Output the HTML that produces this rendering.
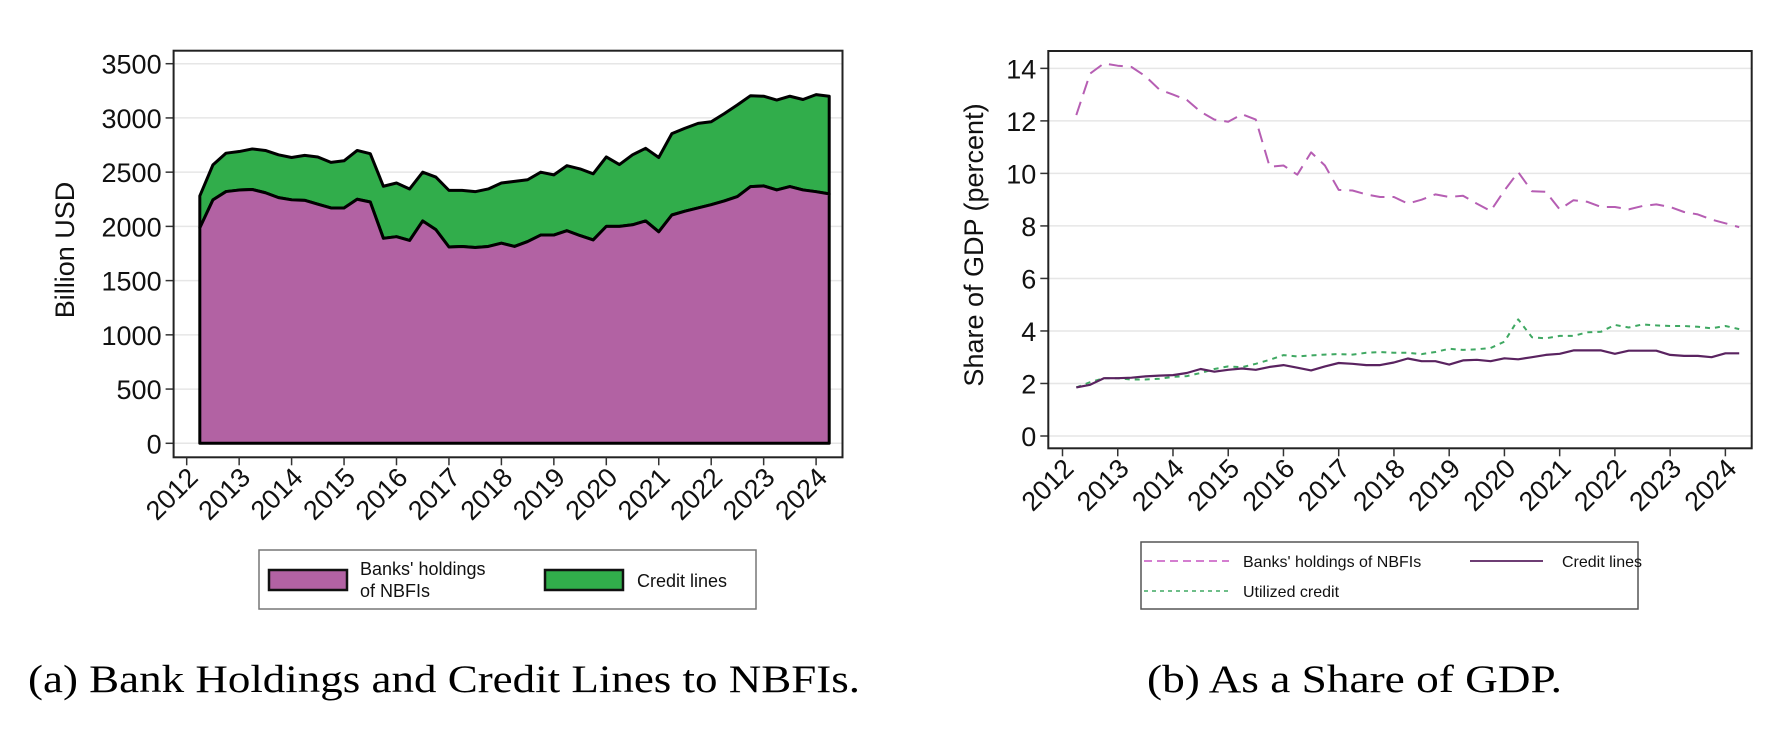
<!DOCTYPE html>
<html><head><meta charset="utf-8"><style>
html,body{margin:0;padding:0;background:#fff;}
svg{display:block;font-family:"Liberation Sans",sans-serif;}
</style></head><body>
<svg id="fig" width="1787" height="733" viewBox="0 0 1787 733">
<g id="left"></g>
<g id="right"></g>
<text x="28" y="692" font-family="Liberation Serif, serif" font-size="39" textLength="832" lengthAdjust="spacingAndGlyphs">(a) Bank Holdings and Credit Lines to NBFIs.</text>
<text x="1147" y="692" font-family="Liberation Serif, serif" font-size="39" textLength="415" lengthAdjust="spacingAndGlyphs">(b) As a Share of GDP.</text>
</svg>
<script>
// ---- Left chart data (billion USD), quarterly 2012Q2..2024Q2
const startYear = 2012.25;
const banksHoldings = [1986,2244,2321, 2335,2340,2310,2265, 2245,2240,2205,2170, 2170,2250,2225,1890, 1905,1870,2050,1970, 1810,1815,1805,1815, 1845,1815,1860,1920, 1920,1960,1915,1875, 2000,2000,2015,2050, 1950,2105,2140,2170, 2200,2235,2275,2367, 2373,2336,2367,2336, 2320,2300];
const totalWithCredit = [2281,2567,2675, 2690,2714,2700,2660, 2635,2655,2640,2590, 2605,2700,2670,2370, 2400,2345,2500,2455, 2332,2332,2320,2345, 2400,2415,2430,2500, 2475,2560,2530,2485, 2640,2570,2660,2720, 2635,2855,2905,2950, 2965,3040,3120,3205, 3200,3165,3200,3170, 3215,3200];
const leftYTicks = [0,500,1000,1500,2000,2500,3000,3500];
const yearTicks = [2012,2013,2014,2015,2016,2017,2018,2019,2020,2021,2022,2023,2024];
// ---- Right chart data (percent of GDP)
const banksShare = [12.22,13.8,14.19, 14.1,14.05,13.7,13.2, 13.0,12.8,12.35,12.05, 11.97,12.25,12.05,10.25, 10.3,9.95,10.8,10.3, 9.37,9.35,9.2,9.1, 9.1,8.85,9.0,9.2, 9.1,9.15,8.85,8.57, 9.35,10.05,9.32,9.3, 8.63,8.98,8.92,8.72, 8.72,8.63,8.76,8.82, 8.72,8.53,8.44,8.24, 8.1,7.95];
const creditShare = [1.85,1.95,2.2, 2.2,2.22,2.27,2.3, 2.32,2.4,2.55,2.45, 2.52,2.57,2.52,2.63, 2.7,2.6,2.5,2.65, 2.78,2.75,2.7,2.7, 2.8,2.95,2.85,2.85, 2.72,2.88,2.9,2.85, 2.96,2.92,3.0,3.09, 3.13,3.26,3.26,3.26, 3.13,3.25,3.25,3.25, 3.09,3.05,3.05,3.0, 3.15,3.15];
const utilizedShare = [1.85,2.05,2.2, 2.2,2.15,2.15,2.18, 2.25,2.28,2.4,2.55, 2.65,2.62,2.75,2.9, 3.08,3.03,3.07,3.1, 3.12,3.1,3.17,3.2, 3.17,3.17,3.12,3.2, 3.32,3.28,3.3,3.35, 3.59,4.44,3.76,3.72, 3.81,3.81,3.95,3.97, 4.23,4.13,4.25,4.21, 4.19,4.19,4.16,4.1, 4.19,4.07];
const rightYTicks = [0,2,4,6,8,10,12,14];

const NS="http://www.w3.org/2000/svg";
function mk(parent,tag,attrs){const e=document.createElementNS(NS,tag);for(const k in attrs)e.setAttribute(k,attrs[k]);parent.appendChild(e);return e;}

// ---------- LEFT ----------
(function(){
const g=document.getElementById('left');
const L={x0:173.6,x1:842.5,y0:50.7,y1:457.3};
const xs=t=>186.7+(t-2012)*52.45;
const ys=v=>443.3-v*(379.6/3500);
leftYTicks.forEach(v=>{
  const gl=mk(g,'line',{x1:L.x0,x2:L.x1,y1:ys(v),y2:ys(v),stroke:'#e6e6e6','stroke-width':1.5});
  
  
  const tk=mk(g,'line',{x1:L.x0-8,x2:L.x0,y1:ys(v),y2:ys(v),stroke:'#333','stroke-width':1.5});
  
  
  const t=mk(g,'text',{x:L.x0-12,y:ys(v)+10,'text-anchor':'end','font-size':27,fill:'#111'});
  t.textContent=v;
  
  
});
const n=banksHoldings.length;
const X=i=>xs(startYear+i*0.25);
let top='',bot='';
for(let i=0;i<n;i++){top+=(i?'L':'M')+X(i)+','+ys(totalWithCredit[i]);}
for(let i=n-1;i>=0;i--){top+='L'+X(i)+','+ys(banksHoldings[i]);}
const ga=mk(g,'path',{d:top+'Z',fill:'#31ad4b',stroke:'#000','stroke-width':3,'stroke-linejoin':'round'});


for(let i=0;i<n;i++){bot+=(i?'L':'M')+X(i)+','+ys(banksHoldings[i]);}
bot+='L'+X(n-1)+','+ys(0)+'L'+X(0)+','+ys(0)+'Z';
const pa=mk(g,'path',{d:bot,fill:'#b262a3',stroke:'#000','stroke-width':3,'stroke-linejoin':'round'});


const fr=mk(g,'rect',{x:L.x0,y:L.y0,width:L.x1-L.x0,height:L.y1-L.y0,fill:'none',stroke:'#222','stroke-width':2});


yearTicks.forEach(y=>{
  const x=xs(y);
  const tk=mk(g,'line',{x1:x,x2:x,y1:L.y1,y2:L.y1+8,stroke:'#333','stroke-width':1.5});
  
  
  const t=mk(g,'text',{x:x+5,y:L.y1+25,'text-anchor':'end','font-size':27,fill:'#111',transform:`rotate(-45 ${x+5} ${L.y1+14})`});
  t.textContent=y;
  
  
});
const yl=mk(g,'text',{x:0,y:0,'text-anchor':'middle','font-size':27,fill:'#111',transform:'translate(74,250) rotate(-90)'});
yl.textContent='Billion USD';


// legend
const lg=mk(g,'g',{});


mk(lg,'rect',{x:259,y:550,width:497,height:59,fill:'#fff',stroke:'#777','stroke-width':1.5});
const s1=mk(lg,'rect',{x:269,y:570,width:78,height:20,fill:'#b262a3',stroke:'#111','stroke-width':2.5});


const t1=mk(lg,'text',{x:360,y:575,'font-size':18,fill:'#111'});t1.textContent="Banks' holdings";


const t1b=mk(lg,'text',{x:360,y:597,'font-size':18,fill:'#111'});t1b.textContent="of NBFIs";


const s2=mk(lg,'rect',{x:545,y:570,width:78,height:20,fill:'#31ad4b',stroke:'#111','stroke-width':2.5});


const t2=mk(lg,'text',{x:637,y:587,'font-size':18,fill:'#111'});t2.textContent="Credit lines";


})();

// ---------- RIGHT ----------
(function(){
const g=document.getElementById('right');
const R={x0:1048.3,x1:1751.7,y0:51,y1:448.3};
const xs=t=>1062.5+(t-2012)*55.24;
const ys=v=>436-v*26.26;
rightYTicks.forEach(v=>{
  const gl=mk(g,'line',{x1:R.x0,x2:R.x1,y1:ys(v),y2:ys(v),stroke:'#e6e6e6','stroke-width':1.5});
  
  
  const tk=mk(g,'line',{x1:R.x0-8,x2:R.x0,y1:ys(v),y2:ys(v),stroke:'#333','stroke-width':1.5});
  
  
  const t=mk(g,'text',{x:R.x0-12,y:ys(v)+10,'text-anchor':'end','font-size':27,fill:'#111'});
  t.textContent=v;
  
  
});
function line(arr,attrs,name){
  let d='';arr.forEach((v,i)=>{d+=(i?'L':'M')+xs(startYear+i*0.25).toFixed(1)+','+ys(v).toFixed(1);});
  const p=mk(g,'path',Object.assign({d:d,fill:'none','stroke-linejoin':'round'},attrs));
  
  
}
line(utilizedShare,{stroke:'#3fa862','stroke-width':2,'stroke-dasharray':'5 5'},'utilized-credit-line');
line(creditShare,{stroke:'#5a2360','stroke-width':2.2},'credit-lines-line');
line(banksShare,{stroke:'#b65eb3','stroke-width':2,'stroke-dasharray':'14 8'},'banks-holdings-line');
const fr=mk(g,'rect',{x:R.x0,y:R.y0,width:R.x1-R.x0,height:R.y1-R.y0,fill:'none',stroke:'#222','stroke-width':2});


yearTicks.forEach(y=>{
  const x=xs(y);
  const tk=mk(g,'line',{x1:x,x2:x,y1:R.y1,y2:R.y1+8,stroke:'#333','stroke-width':1.5});
  
  
  const t=mk(g,'text',{x:x+5,y:R.y1+25,'text-anchor':'end','font-size':27,fill:'#111',transform:`rotate(-45 ${x+5} ${R.y1+14})`});
  t.textContent=y;
  
  
});
const yl=mk(g,'text',{x:0,y:0,'text-anchor':'middle','font-size':27,fill:'#111',transform:'translate(983,245) rotate(-90)'});
yl.textContent='Share of GDP (percent)';


const lg=mk(g,'g',{});


mk(lg,'rect',{x:1141,y:542,width:497,height:67,fill:'#fff',stroke:'#555','stroke-width':1.5});
const a=mk(lg,'line',{x1:1144,x2:1229,y1:561,y2:561,stroke:'#c653c0','stroke-width':1.5,'stroke-dasharray':'8 5'});


const ta=mk(lg,'text',{x:1243,y:567,'font-size':16,fill:'#111'});ta.textContent="Banks' holdings of NBFIs";


const b=mk(lg,'line',{x1:1470,x2:1543,y1:561,y2:561,stroke:'#5a2360','stroke-width':1.8});


const tb=mk(lg,'text',{x:1562,y:567,'font-size':16,fill:'#111'});tb.textContent="Credit lines";


const c=mk(lg,'line',{x1:1144,x2:1229,y1:591,y2:591,stroke:'#3fa862','stroke-width':1.5,'stroke-dasharray':'4 4'});


const tc=mk(lg,'text',{x:1243,y:597,'font-size':16,fill:'#111'});tc.textContent="Utilized credit";


})();
</script>
</body></html>
